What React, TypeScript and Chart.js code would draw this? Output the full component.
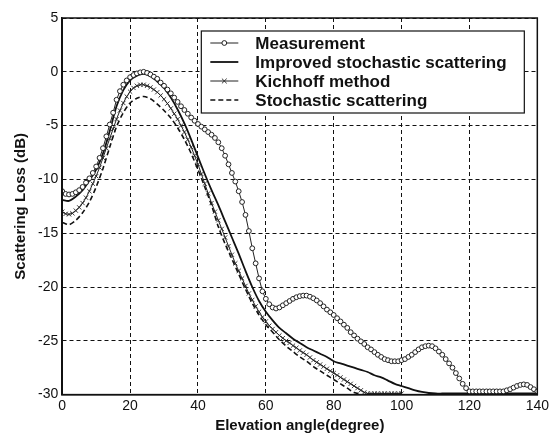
import React, { useEffect, useRef } from "react";
import { Chart, registerables } from "chart.js";

Chart.register(...registerables);

// Elevation angle grids (degrees)
const ANGLES_1DEG = Array.from({ length: 141 }, (_, i) => i);
const ANGLES_2DEG = Array.from({ length: 71 }, (_, i) => i * 2);

// Measurement (dB), every 1 degree, 0..140
const MEASUREMENT = [
  -11.1, -11.35, -11.4, -11.35, -11.2, -11.0, -10.7, -10.3, -9.9, -9.4,
  -8.8, -8.0, -7.1, -6.0, -4.9, -3.8, -2.6, -1.8, -1.2, -0.8,
  -0.5, -0.3, -0.15, -0.05, 0.0, -0.1, -0.25, -0.45, -0.65, -1.0,
  -1.3, -1.65, -2.0, -2.4, -2.8, -3.2, -3.55, -3.9, -4.25, -4.55,
  -4.85, -5.1, -5.35, -5.6, -5.85, -6.15, -6.55, -7.1, -7.8, -8.6,
  -9.4, -10.2, -11.1, -12.1, -13.3, -14.8, -16.4, -17.8, -19.2, -20.4,
  -21.1, -21.6, -21.9, -22.0, -21.9, -21.7, -21.5, -21.3, -21.1, -20.95,
  -20.85, -20.8, -20.8, -20.9, -21.05, -21.25, -21.5, -21.8, -22.1, -22.35,
  -22.6, -22.9, -23.2, -23.5, -23.8, -24.2, -24.5, -24.8, -25.05, -25.3,
  -25.6, -25.8, -26.05, -26.3, -26.5, -26.7, -26.8, -26.9, -26.9, -26.9,
  -26.8, -26.7, -26.5, -26.3, -26.05, -25.8, -25.6, -25.5, -25.45, -25.5,
  -25.7, -26.0, -26.3, -26.7, -27.1, -27.5, -28.0, -28.5, -29.0, -29.4,
  -29.7, -29.7, -29.7, -29.7, -29.7, -29.7, -29.7, -29.7, -29.7, -29.7,
  -29.7, -29.6, -29.5, -29.35, -29.2, -29.1, -29.05, -29.1, -29.3, -29.5,
  -29.7,
];

// Improved stochastic scattering (dB), every 2 degrees, 0..140
const IMPROVED = [
  -11.9, -12.0, -11.6, -11.0, -10.1, -9.1, -7.6, -5.5, -3.2, -1.7,
  -0.8, -0.35, -0.2, -0.4, -0.9, -1.5, -2.4, -3.5, -4.8, -6.3,
  -7.9, -9.5, -11.0, -12.4, -13.9, -15.4, -16.9, -18.5, -20.0, -21.3,
  -22.3, -23.1, -23.8, -24.3, -24.8, -25.2, -25.6, -25.9, -26.2, -26.5,
  -26.9, -27.1, -27.3, -27.5, -27.7, -27.9, -28.2, -28.4, -28.7, -29.0,
  -29.2, -29.4, -29.6, -29.75, -29.85, -29.9, -29.9, -29.9, -29.9, -29.9,
  -29.9, -29.9, -29.9, -29.9, -29.9, -29.9, -29.9, -29.9, -29.9, -29.9,
  -29.9,
];

// Kichhoff method (dB), every 1 degree, 0..100
const KIRCHHOFF = [
  -13.0, -13.2, -13.25, -13.15, -12.9, -12.6, -12.2, -11.7, -11.1, -10.4,
  -9.7, -8.9, -8.0, -7.1, -6.2, -5.3, -4.4, -3.6, -2.9, -2.3,
  -1.85, -1.5, -1.3, -1.2, -1.2, -1.3, -1.45, -1.65, -1.9, -2.2,
  -2.55, -2.95, -3.4, -3.9, -4.4, -5.0, -5.6, -6.3, -7.0, -7.8,
  -8.6, -9.5, -10.4, -11.3, -12.2, -13.0, -13.8, -14.6, -15.4, -16.2,
  -17.0, -17.8, -18.5, -19.2, -19.9, -20.6, -21.2, -21.8, -22.3, -22.8,
  -23.2, -23.6, -23.9, -24.2, -24.5, -24.75, -25.0, -25.2, -25.45, -25.65,
  -25.9, -26.1, -26.3, -26.55, -26.8, -27.0, -27.2, -27.4, -27.6, -27.8,
  -28.0, -28.2, -28.4, -28.6, -28.8, -29.0, -29.2, -29.4, -29.6, -29.8,
  -29.9, -29.9, -29.9, -29.9, -29.9, -29.9, -29.9, -29.9, -29.9, -29.9,
  -29.9,
];

// Stochastic scattering (dB), every 2 degrees, 0..88
const STOCHASTIC = [
  -14.0, -14.2, -13.8, -13.1, -12.1, -10.7, -9.0, -7.0, -5.1, -3.8,
  -2.9, -2.45, -2.3, -2.5, -3.0, -3.6, -4.3, -5.2, -6.3, -7.6,
  -9.1, -10.7, -12.4, -14.4, -16.0, -17.4, -18.8, -20.2, -21.5, -22.6,
  -23.5, -24.2, -24.9, -25.5, -26.0, -26.5, -26.9, -27.4, -27.8, -28.2,
  -28.6, -29.0, -29.4, -29.8, -29.95,
];

const SERIES_LABELS = [
  "Measurement",
  "Improved stochastic scattering",
  "Kichhoff method",
  "Stochastic scattering",
];

const X_TICK_STEP = 20;
const Y_TICK_STEP = 5;

const FONT = '"Liberation Sans", Arial, Helvetica, sans-serif';

const toPoints = (xs: number[], ys: number[]) =>
  ys.map((y, i) => ({ x: xs[i], y }));

const framePlugin = {
  id: "frameBox",
  afterDatasetsDraw(chart: any) {
    const { ctx, chartArea } = chart;
    ctx.save();
    ctx.strokeStyle = "#111";
    ctx.lineWidth = 1.5;
    ctx.strokeRect(
      chartArea.left,
      chartArea.top,
      chartArea.right - chartArea.left,
      chartArea.bottom - chartArea.top
    );
    ctx.restore();
  },
};

const boxLegendPlugin = {
  id: "boxLegend",
  afterDraw(chart: any) {
    const { ctx, chartArea } = chart;
    const w = 323;
    const h = 82;
    const x = chartArea.right - 13 - w;
    const y = chartArea.top + 13;
    ctx.save();
    ctx.fillStyle = "#fff";
    ctx.fillRect(x, y, w, h);
    ctx.strokeStyle = "#111";
    ctx.lineWidth = 1.2;
    ctx.strokeRect(x, y, w, h);
    const rowY = [12, 31, 50, 69];
    const x0 = x + 9;
    const x1 = x + 37;
    chart.data.datasets.forEach((ds: any, i: number) => {
      const cy = y + rowY[i];
      ctx.save();
      ctx.strokeStyle = ds.borderColor;
      ctx.lineWidth = ds.borderWidth;
      ctx.setLineDash(ds.borderDash || []);
      ctx.beginPath();
      ctx.moveTo(x0, cy);
      ctx.lineTo(x1, cy);
      ctx.stroke();
      ctx.restore();
      if (ds.pointRadius > 0) {
        ctx.save();
        ctx.strokeStyle = ds.pointBorderColor;
        ctx.fillStyle = ds.pointBackgroundColor;
        ctx.lineWidth = ds.pointBorderWidth;
        const mx = (x0 + x1) / 2;
        const r = ds.pointRadius;
        if (ds.pointStyle === "circle") {
          ctx.beginPath();
          ctx.arc(mx, cy, r, 0, Math.PI * 2);
          ctx.fill();
          ctx.stroke();
        } else {
          ctx.beginPath();
          ctx.moveTo(mx - r * 0.8, cy - r * 0.8);
          ctx.lineTo(mx + r * 0.8, cy + r * 0.8);
          ctx.moveTo(mx - r * 0.8, cy + r * 0.8);
          ctx.lineTo(mx + r * 0.8, cy - r * 0.8);
          ctx.stroke();
        }
        ctx.restore();
      }
      ctx.fillStyle = "#111";
      ctx.font = `bold 17px ${FONT}`;
      ctx.textBaseline = "middle";
      ctx.textAlign = "left";
      ctx.fillText(ds.label, x + 54, cy + 1);
    });
    ctx.restore();
  },
};

export default function App() {
  const canvasRef = useRef<HTMLCanvasElement | null>(null);

  useEffect(() => {
    document.body.style.margin = "0";
    const canvas = canvasRef.current;
    if (!canvas) return;

    const chart = new Chart(canvas, {
      type: "line",
      data: {
        datasets: [
          {
            label: SERIES_LABELS[0],
            data: toPoints(ANGLES_1DEG, MEASUREMENT),
            borderColor: "#222",
            borderWidth: 1,
            pointStyle: "circle",
            pointRadius: 2.4,
            pointBorderWidth: 1,
            pointBorderColor: "#222",
            pointBackgroundColor: "#fff",
            tension: 0,
          },
          {
            label: SERIES_LABELS[1],
            data: toPoints(ANGLES_2DEG, IMPROVED),
            borderColor: "#111",
            borderWidth: 1.8,
            pointRadius: 0,
            tension: 0.3,
          },
          {
            label: SERIES_LABELS[2],
            data: toPoints(ANGLES_1DEG, KIRCHHOFF),
            borderColor: "#222",
            borderWidth: 1,
            pointStyle: "crossRot",
            pointRadius: 3,
            pointBorderWidth: 0.9,
            pointBorderColor: "#222",
            pointBackgroundColor: "#222",
            tension: 0,
          },
          {
            label: SERIES_LABELS[3],
            data: toPoints(ANGLES_2DEG, STOCHASTIC),
            borderColor: "#111",
            borderWidth: 1.6,
            borderDash: [5, 3],
            pointRadius: 0,
            tension: 0.3,
          },
        ] as any,
      },
      options: {
        animation: false,
        responsive: false,
        devicePixelRatio: 1,
        layout: { padding: { left: 12, top: 18, right: 0, bottom: 0 } },
        plugins: {
          legend: { display: false },
          tooltip: { enabled: false },
        },
        scales: {
          x: {
            type: "linear",
            min: 0,
            max: 140,
            ticks: {
              stepSize: X_TICK_STEP,
              color: "#111",
              font: { family: FONT, size: 14, lineHeight: 1.1 },
              padding: 4,
            },
            grid: { color: "#111", lineWidth: 1, drawTicks: false },
            border: { display: true, color: "#111", width: 1.5, dash: [4, 3] },
            title: {
              display: true,
              text: "Elevation angle(degree)",
              color: "#111",
              font: { family: FONT, size: 15, weight: "bold", lineHeight: 1.0 },
              padding: { top: 0, bottom: 0 },
            },
          },
          y: {
            type: "linear",
            min: -30,
            max: 5,
            ticks: {
              stepSize: Y_TICK_STEP,
              color: "#111",
              font: { family: FONT, size: 14 },
              padding: 4,
            },
            grid: { color: "#111", lineWidth: 1, drawTicks: false },
            border: { display: true, color: "#111", width: 1.5, dash: [4, 3] },
            title: {
              display: true,
              text: "Scattering Loss (dB)",
              color: "#111",
              font: { family: FONT, size: 15, weight: "bold" },
              padding: { top: 0, bottom: 4 },
            },
          },
        },
      },
      plugins: [framePlugin, boxLegendPlugin],
    });

    return () => chart.destroy();
  }, []);

  return (
    <div style={{ width: 553, height: 433, position: "relative", background: "#fff" }}>
      <canvas ref={canvasRef} width={553} height={433} />
    </div>
  );
}
